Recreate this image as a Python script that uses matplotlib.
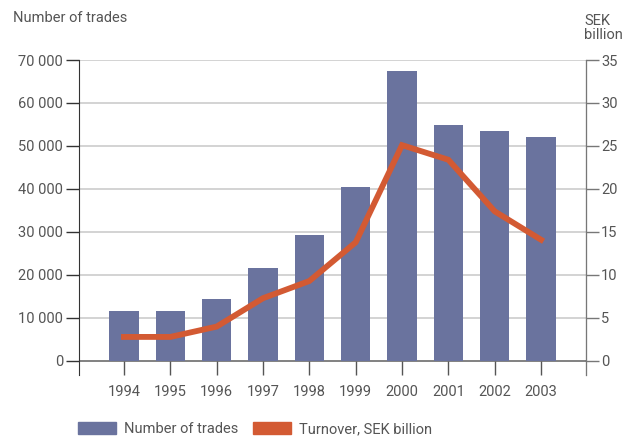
import numpy as np
import matplotlib.pyplot as plt

years = ["1994", "1995", "1996", "1997", "1998", "1999", "2000", "2001", "2002", "2003"]
trades = [11600, 11600, 14400, 21600, 29300, 40400, 67400, 54800, 53400, 52200]
turnover = [2.8, 2.8, 4.0, 7.3, 9.3, 13.8, 25.1, 23.4, 17.4, 14.1]
left_ticks = [0, 10000, 20000, 30000, 40000, 50000, 60000, 70000]
left_labels = ["0", "10 000", "20 000", "30 000", "40 000", "50 000", "60 000", "70 000"]
right_ticks = [0, 5, 10, 15, 20, 25, 30, 35]

plt.rcParams["font.family"] = "Roboto"
text_col = "#555555"
bar_col = "#6a739e"
line_col = "#d35a33"
fs = 10.5

fig = plt.figure(figsize=(6.26, 4.36), dpi=100)
ax = fig.add_axes([79 / 626, (436 - 375) / 436, (586 - 79) / 626, (375 - 60) / 436])
ax2 = ax.twinx()

x = np.arange(len(years))
ax.bar(x, trades, width=0.63, color=bar_col, zorder=2)
ax2.plot(x, turnover, color=line_col, lw=4.2, solid_joinstyle="miter", zorder=3)

ymin = -3256
ax.set_ylim(ymin, 70000)
ax2.set_ylim(ymin / 2000, 35)
ax.set_xlim(-0.97, 9.97)

for t in left_ticks[1:]:
    ax.axhline(t, color="#cccccc", lw=1.2, zorder=1)
ax.axhline(0, color="#777777", lw=1.3, zorder=1)

ax.set_yticks(left_ticks)
ax.set_yticklabels(left_labels)
ax2.set_yticks(right_ticks)
ax.set_xticks(x)
ax.set_xticklabels(years)

ax.tick_params(axis="y", direction="out", length=9.5, width=1, color="#333333",
               labelsize=fs, labelcolor=text_col, pad=2)
ax2.tick_params(axis="y", direction="out", length=9, width=1, color="#777777",
                labelsize=fs, labelcolor=text_col, pad=2)
ax.tick_params(axis="x", direction="in", length=10, width=1, color="#555555",
               labelsize=fs, labelcolor=text_col, pad=7)

for a in (ax, ax2):
    a.spines["top"].set_visible(False)
    a.spines["bottom"].set_visible(False)
ax.spines["left"].set_color("#333333")
ax2.spines["left"].set_visible(False)
ax2.spines["right"].set_color("#777777")
ax.set_zorder(ax2.get_zorder() - 1)
ax.patch.set_visible(False)
ax2.patch.set_visible(False)

fig.text(13 / 626, 1 - 18 / 436, "Number of trades", fontsize=fs, color=text_col, va="center")
fig.text(584 / 626, 1 - 28 / 436, "SEK\nbillion", fontsize=fs, color=text_col, va="center",
         linespacing=1.05)

h1 = plt.Rectangle((0, 0), 1, 1, color=bar_col)
h2 = plt.Rectangle((0, 0), 1, 1, color=line_col)
fig.legend([h1, h2], ["Number of trades", "Turnover, SEK billion"], loc="center left",
           bbox_to_anchor=(65 / 626, 1 - 429 / 436), ncol=2, frameon=False,
           fontsize=fs, labelcolor=text_col, handlelength=2.6, handleheight=0.8,
           columnspacing=1.0, handletextpad=0.55)

fig.savefig("out.png", dpi=100)
